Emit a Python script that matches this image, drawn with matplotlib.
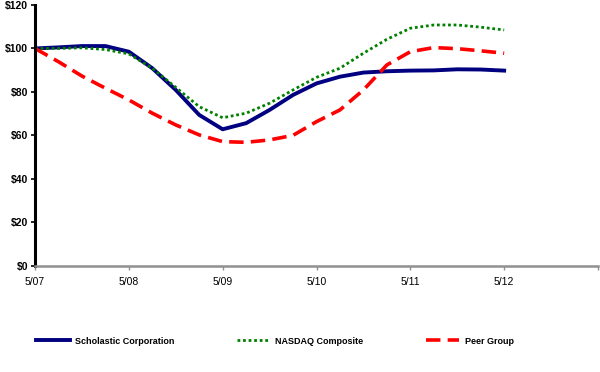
import numpy as np
import matplotlib
matplotlib.use("Agg")
import matplotlib.pyplot as plt

plt.rcParams["font.family"] = ["Liberation Sans", "DejaVu Sans"]

# quarterly readings, years since 5/07
quarters = np.arange(21) / 4.0
scholastic = [100, 100.5, 101.1, 101.1, 98.5, 90.9, 80.9, 69.4, 62.8, 65.6, 71.7,
              78.6, 83.9, 87.0, 88.9, 89.5, 89.8, 89.9, 90.4, 90.3, 89.8]
nasdaq = [100, 100, 100.3, 99.5, 97.5, 90.9, 82.1, 73.2, 68.1, 70.2, 74.8,
          80.9, 86.7, 90.9, 97.8, 104.2, 109.3, 110.8, 110.8, 109.8, 108.5]
peer = [100, 93.9, 87.3, 81.7, 76.3, 70.2, 64.8, 60.2, 57.1, 56.8, 57.9,
        60.0, 66.3, 71.7, 80.9, 92.4, 98.5, 100.4, 99.9, 98.9, 97.8]

tick_labels = ["5/07", "5/08", "5/09", "5/10", "5/11", "5/12", ""]
y_ticks = [0, 20, 40, 60, 80, 100, 120]

fig = plt.figure(figsize=(6, 3.72), dpi=100)
ax = fig.add_axes([35 / 600, 1 - 265.7 / 372, 563 / 600, 260.7 / 372])

ax.plot(quarters, scholastic, color="#000080", lw=2.8,
        solid_joinstyle="round", label="Scholastic Corporation")
ax.plot(quarters, nasdaq, color="#008000", lw=2.0, linestyle=(0, (1, 1)),
        label="NASDAQ Composite")
ax.plot(quarters, peer, color="#ff0000", lw=2.6, linestyle=(0, (4, 2)),
        label="Peer Group")

ax.set_xlim(0, 6)
ax.set_ylim(0, 120)
ax.set_xticks(range(7))
ax.set_xticklabels(tick_labels, fontsize=7.5)
ax.set_yticks(y_ticks)
ax.set_yticklabels(["$%d" % v for v in y_ticks], fontsize=7.5, fontweight="bold")

for s in ["top", "right"]:
    ax.spines[s].set_visible(False)
ax.spines["left"].set_linewidth(2.2)
ax.spines["left"].set_color("black")
ax.spines["bottom"].set_linewidth(1.8)
ax.spines["bottom"].set_color("#909090")
ax.tick_params(axis="y", length=3, width=1.2, pad=2)
ax.tick_params(axis="x", length=3, width=1.0, color="#909090", pad=5)

fig.legend(loc="center left", bbox_to_anchor=(28 / 600, 1 - 341 / 372), ncol=3,
           frameon=False, prop={"weight": "bold", "size": 6.5},
           handlelength=3.7, handletextpad=0.6, columnspacing=6.9)

fig.savefig("out.png", dpi=100)
